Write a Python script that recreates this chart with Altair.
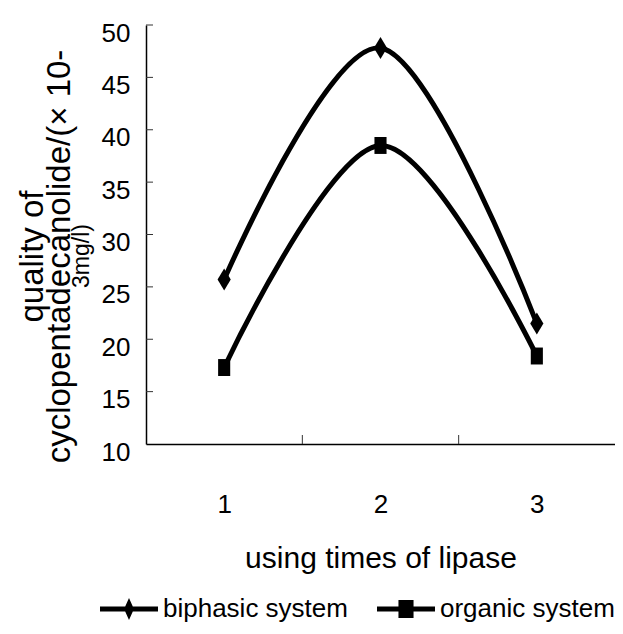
import altair as alt
import pandas as pd

# ---- data ----
times = [1, 2, 3]
biphasic = [25.7, 47.8, 21.5]
organic = [17.3, 38.5, 18.4]
series_names = ["biphasic system", "organic system"]
y_ticks = [10, 15, 20, 25, 30, 35, 40, 45, 50]
x_bounds = [1.5, 2.5]

rows = []
for name, vals in zip(series_names, [biphasic, organic]):
    for t, v in zip(times, vals):
        rows.append({"time": t, "value": v, "series": name})
df = pd.DataFrame(rows)
ytick_df = pd.DataFrame({"value": y_ticks[1:]})
xtick_df = pd.DataFrame({"time": x_bounds})
sub_df = pd.DataFrame({"t": ["3mg/l)"]})

FONT = "Liberation Sans"
W, H = 469, 419

xscale = alt.Scale(domain=[0.5, 3.5], nice=False, zero=False)
yscale = alt.Scale(domain=[10, 50], nice=False, zero=False)

x_axis = alt.Axis(
    values=times, ticks=False, tickSize=0, labelPadding=47,
    labelFontSize=26, labelFont=FONT, labelColor="black",
    title="using times of lipase", titleFont=FONT, titleFontSize=30,
    titleFontWeight="normal", titleColor="black",
    titleBaseline="alphabetic", titleY=123,
    domainColor="black", domainWidth=1.5, grid=False,
)
y_axis = alt.Axis(
    values=y_ticks, ticks=False, tickSize=0, labelPadding=16, labelOffset=8,
    labelFontSize=26, labelFont=FONT, labelColor="black",
    title=["quality of", "cyclopentadecanolide/(× 10-"],
    titleFont=FONT, titleFontSize=33, titleFontWeight="normal", titleColor="black",
    titleAngle=270, titleAlign="center", titleBaseline="middle",
    titleX=-114, titleY=231, titleLineHeight=27,
    domainColor="black", domainWidth=1.5, grid=False,
)

X = alt.X("time:Q", scale=xscale, axis=x_axis)
Y = alt.Y("value:Q", scale=yscale, axis=y_axis)

lines = alt.Chart(df).mark_line(
    interpolate="cardinal", strokeWidth=5, color="black"
).encode(x=X, y=Y, detail="series:N")

marker_paths = [
    "M0,-1L0.6,0L0,1L-0.6,0Z",
    "M-0.55,-0.77L0.55,-0.77L0.55,0.77L-0.55,0.77Z",
]
points = alt.Chart(df).mark_point(
    filled=True, size=484, color="black", opacity=1
).encode(
    x=X, y=Y,
    shape=alt.Shape("series:N", scale=alt.Scale(domain=series_names, range=marker_paths), legend=None),
)

legend_paths = [
    "M-1,-0.086L1,-0.086L1,0.086L-1,0.086Z M0,-0.38L0.17,0L0,0.38L-0.17,0Z",
    "M-1,-0.086L1,-0.086L1,0.086L-1,0.086Z M-0.26,-0.31L0.26,-0.31L0.26,0.31L-0.26,0.31Z",
]
legend_layer = alt.Chart(df).mark_point(
    filled=True, size=10, color="black", opacity=0
).encode(
    x=X, y=Y,
    shape=alt.Shape(
        "series:N",
        scale=alt.Scale(domain=series_names, range=legend_paths),
        legend=alt.Legend(
            orient="none", legendX=-46, legendY=555, direction="horizontal",
            title=None, symbolSize=3364, symbolOpacity=1, symbolStrokeWidth=0,
            symbolFillColor="black", labelFont=FONT, labelFontSize=26,
            labelColor="black", labelOffset=5, labelLimit=400,
            columnPadding=29, padding=0,
        ),
    ),
)

ytick_rules = alt.Chart(ytick_df).mark_rule(color="#333", strokeWidth=1).encode(
    y=Y, x=alt.value(0), x2=alt.value(7),
)
xtick_rules = alt.Chart(xtick_df).mark_rule(color="#333", strokeWidth=1).encode(
    x=X, y=alt.value(H - 9), y2=alt.value(H),
)
subtitle = alt.Chart(sub_df).mark_text(
    angle=270, fontSize=23, font=FONT, color="black", align="center", baseline="middle"
).encode(
    text="t:N", x=alt.value(-64), y=alt.value(231),
)

chart = alt.layer(
    ytick_rules, xtick_rules, lines, points, legend_layer, subtitle
).resolve_scale(shape="independent").properties(
    width=W, height=H,
    autosize=alt.AutoSizeParams(type="none"),
    padding={"left": 138, "top": 17, "right": 0, "bottom": 181},
    background="white",
).configure_view(stroke=None)

chart.save("out.html", embed_options={"renderer": "svg", "actions": False})
